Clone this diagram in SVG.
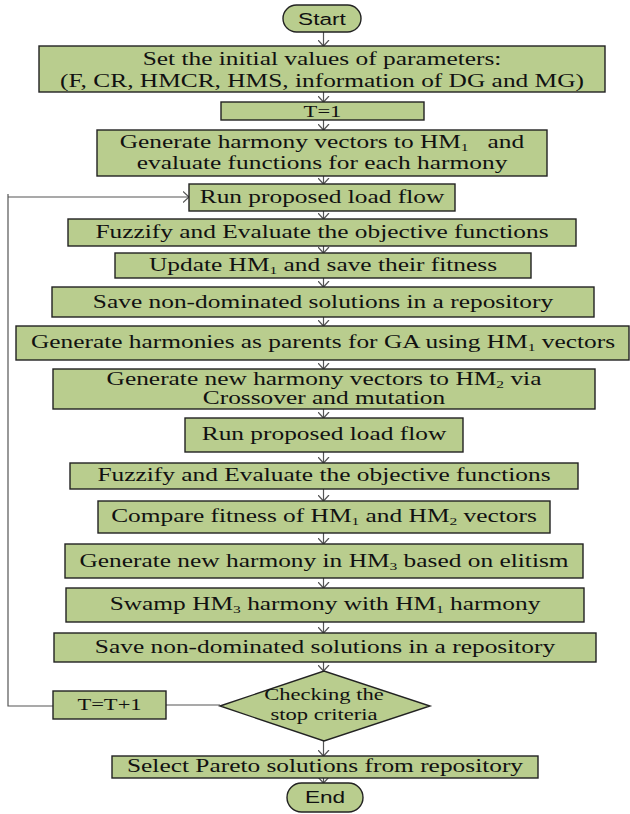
<svg xmlns="http://www.w3.org/2000/svg" width="630" height="814" viewBox="0 0 630 814">
  <style>
    .box { fill: #b9cd8e; stroke: #222; stroke-width: 1.4; }
    .t { font-family: "Liberation Serif", "Times New Roman", serif; font-size: 18px; fill: #111; text-anchor: middle; }
    .sm { font-size: 16px; }
    .s { font-family: "Liberation Sans", Arial, sans-serif; font-size: 17px; fill: #111; text-anchor: middle; }
    .sub { font-size: 11px; baseline-shift: -3px; }
    .conn { stroke: #555; stroke-width: 1.2; fill: none; }
  </style>
  <defs>
    <marker id="ah" markerWidth="12" markerHeight="12" refX="6" refY="6" orient="auto" markerUnits="userSpaceOnUse" viewBox="0 0 12 12">
      <path d="M0,0.5 L6,6 L0,11.5" fill="none" stroke="#555" stroke-width="1.2"/>
    </marker>
  </defs>

  <rect width="630" height="814" fill="#fff"/>

  <!-- connectors -->
  <g id="connectors" class="conn">
    <line x1="323.5" y1="32" x2="323.5" y2="46" marker-end="url(#ah)"/>
    <line x1="323.5" y1="92" x2="323.5" y2="102" marker-end="url(#ah)"/>
    <line x1="323.5" y1="120" x2="323.5" y2="130" marker-end="url(#ah)"/>
    <line x1="323.5" y1="176" x2="323.5" y2="184" marker-end="url(#ah)"/>
    <line x1="323.5" y1="211" x2="323.5" y2="219" marker-end="url(#ah)"/>
    <line x1="323.5" y1="246" x2="323.5" y2="253" marker-end="url(#ah)"/>
    <line x1="323.5" y1="278" x2="323.5" y2="287" marker-end="url(#ah)"/>
    <line x1="323.5" y1="317" x2="323.5" y2="326" marker-end="url(#ah)"/>
    <line x1="323.5" y1="360" x2="323.5" y2="369" marker-end="url(#ah)"/>
    <line x1="323.5" y1="409" x2="323.5" y2="418" marker-end="url(#ah)"/>
    <line x1="323.5" y1="452" x2="323.5" y2="463" marker-end="url(#ah)"/>
    <line x1="323.5" y1="489" x2="323.5" y2="501" marker-end="url(#ah)"/>
    <line x1="323.5" y1="533" x2="323.5" y2="544" marker-end="url(#ah)"/>
    <line x1="323.5" y1="578" x2="323.5" y2="588" marker-end="url(#ah)"/>
    <line x1="323.5" y1="622" x2="323.5" y2="633" marker-end="url(#ah)"/>
    <line x1="323.5" y1="662" x2="323.5" y2="671" marker-end="url(#ah)"/>
    <line x1="323.5" y1="741" x2="323.5" y2="756" marker-end="url(#ah)"/>
    <line x1="323.5" y1="778" x2="323.5" y2="783" marker-end="url(#ah)"/>
    <!-- loop back: decision -> T=T+1 -> Run proposed load flow -->
    <line x1="220" y1="705" x2="166" y2="705"/>
    <polyline points="53,706 8,706 8,194"/>
    <line x1="8" y1="197" x2="189" y2="197" marker-end="url(#ah)"/>
  </g>

  <g id="start">
    <rect x="283" y="5" width="78" height="27" rx="13.5" class="box"/>
    <text class="s" transform="translate(322 24.5) scale(1.33 1)">Start</text>
  </g>

  <g id="init">
    <rect x="39" y="46" width="566" height="46" class="box"/>
    <text class="t" transform="translate(322 65) scale(1.41 1)">Set the initial values of parameters:</text>
    <text class="t" transform="translate(322 87) scale(1.41 1)">(F, CR, HMCR, HMS, information of DG and MG)</text>
  </g>

  <g id="t1">
    <rect x="221" y="102" width="203" height="18" class="box"/>
    <text class="t sm" transform="translate(322.5 117) scale(1.41 1)">T=1</text>
  </g>

  <g id="gen-hm1">
    <rect x="97" y="130" width="450" height="46" class="box"/>
    <text class="t" transform="translate(322 148) scale(1.41 1)">Generate harmony vectors to HM<tspan class="sub">1</tspan> &#160;&#160;and</text>
    <text class="t" transform="translate(322 169) scale(1.41 1)">evaluate functions for each harmony</text>
  </g>

  <g id="run-lf-1">
    <rect x="189" y="184" width="266" height="27" class="box"/>
    <text class="t" transform="translate(322 203) scale(1.41 1)">Run proposed load flow</text>
  </g>

  <g id="fuzzify-1">
    <rect x="68" y="219" width="508" height="27" class="box"/>
    <text class="t" transform="translate(322 238) scale(1.41 1)">Fuzzify and Evaluate the objective functions</text>
  </g>

  <g id="update-hm1">
    <rect x="115" y="253" width="416" height="25" class="box"/>
    <text class="t" transform="translate(323 271) scale(1.41 1)">Update HM<tspan class="sub">1</tspan> and save their fitness</text>
  </g>

  <g id="save-1">
    <rect x="52" y="287" width="542" height="30" class="box"/>
    <text class="t" transform="translate(323 308) scale(1.41 1)">Save non-dominated solutions in a repository</text>
  </g>

  <g id="gen-parents">
    <rect x="16" y="326" width="613" height="34" class="box"/>
    <text class="t" transform="translate(323 348) scale(1.41 1)">Generate harmonies as parents for GA using HM<tspan class="sub">1</tspan> vectors</text>
  </g>

  <g id="gen-hm2">
    <rect x="53" y="369" width="542" height="40" class="box"/>
    <text class="t" transform="translate(324 385) scale(1.41 1)">Generate new harmony vectors to HM<tspan class="sub">2</tspan> via</text>
    <text class="t" transform="translate(324 404) scale(1.41 1)">Crossover and mutation</text>
  </g>

  <g id="run-lf-2">
    <rect x="185" y="418" width="278" height="34" class="box"/>
    <text class="t" transform="translate(324 440) scale(1.41 1)">Run proposed load flow</text>
  </g>

  <g id="fuzzify-2">
    <rect x="70" y="463" width="508" height="26" class="box"/>
    <text class="t" transform="translate(324 481) scale(1.41 1)">Fuzzify and Evaluate the objective functions</text>
  </g>

  <g id="compare">
    <rect x="98" y="501" width="452" height="32" class="box"/>
    <text class="t" transform="translate(324 522) scale(1.41 1)">Compare fitness of HM<tspan class="sub">1</tspan> and HM<tspan class="sub">2</tspan> vectors</text>
  </g>

  <g id="gen-hm3">
    <rect x="65" y="544" width="518" height="34" class="box"/>
    <text class="t" transform="translate(324 567) scale(1.41 1)">Generate new harmony in HM<tspan class="sub">3</tspan> based on elitism</text>
  </g>

  <g id="swamp">
    <rect x="66" y="588" width="518" height="34" class="box"/>
    <text class="t" transform="translate(325 610) scale(1.41 1)">Swamp HM<tspan class="sub">3</tspan> harmony with HM<tspan class="sub">1</tspan> harmony</text>
  </g>

  <g id="save-2">
    <rect x="54" y="633" width="542" height="29" class="box"/>
    <text class="t" transform="translate(325 653) scale(1.41 1)">Save non-dominated solutions in a repository</text>
  </g>

  <g id="stop-check">
    <polygon points="220,706 324,671 430,706 324,741" class="box"/>
    <text class="t sm" transform="translate(324 700) scale(1.41 1)">Checking the</text>
    <text class="t sm" transform="translate(324 720) scale(1.41 1)">stop criteria</text>
  </g>

  <g id="t-inc">
    <rect x="53" y="691" width="113" height="28" class="box"/>
    <text class="t sm" transform="translate(109.5 710) scale(1.41 1)">T=T+1</text>
  </g>

  <g id="select-pareto">
    <rect x="112" y="756" width="426" height="22" class="box"/>
    <text class="t" transform="translate(325 772) scale(1.41 1)">Select Pareto solutions from repository</text>
  </g>

  <g id="end">
    <rect x="287" y="783" width="76" height="29" rx="14.5" class="box"/>
    <text class="s" transform="translate(325 803) scale(1.33 1)">End</text>
  </g>
</svg>
